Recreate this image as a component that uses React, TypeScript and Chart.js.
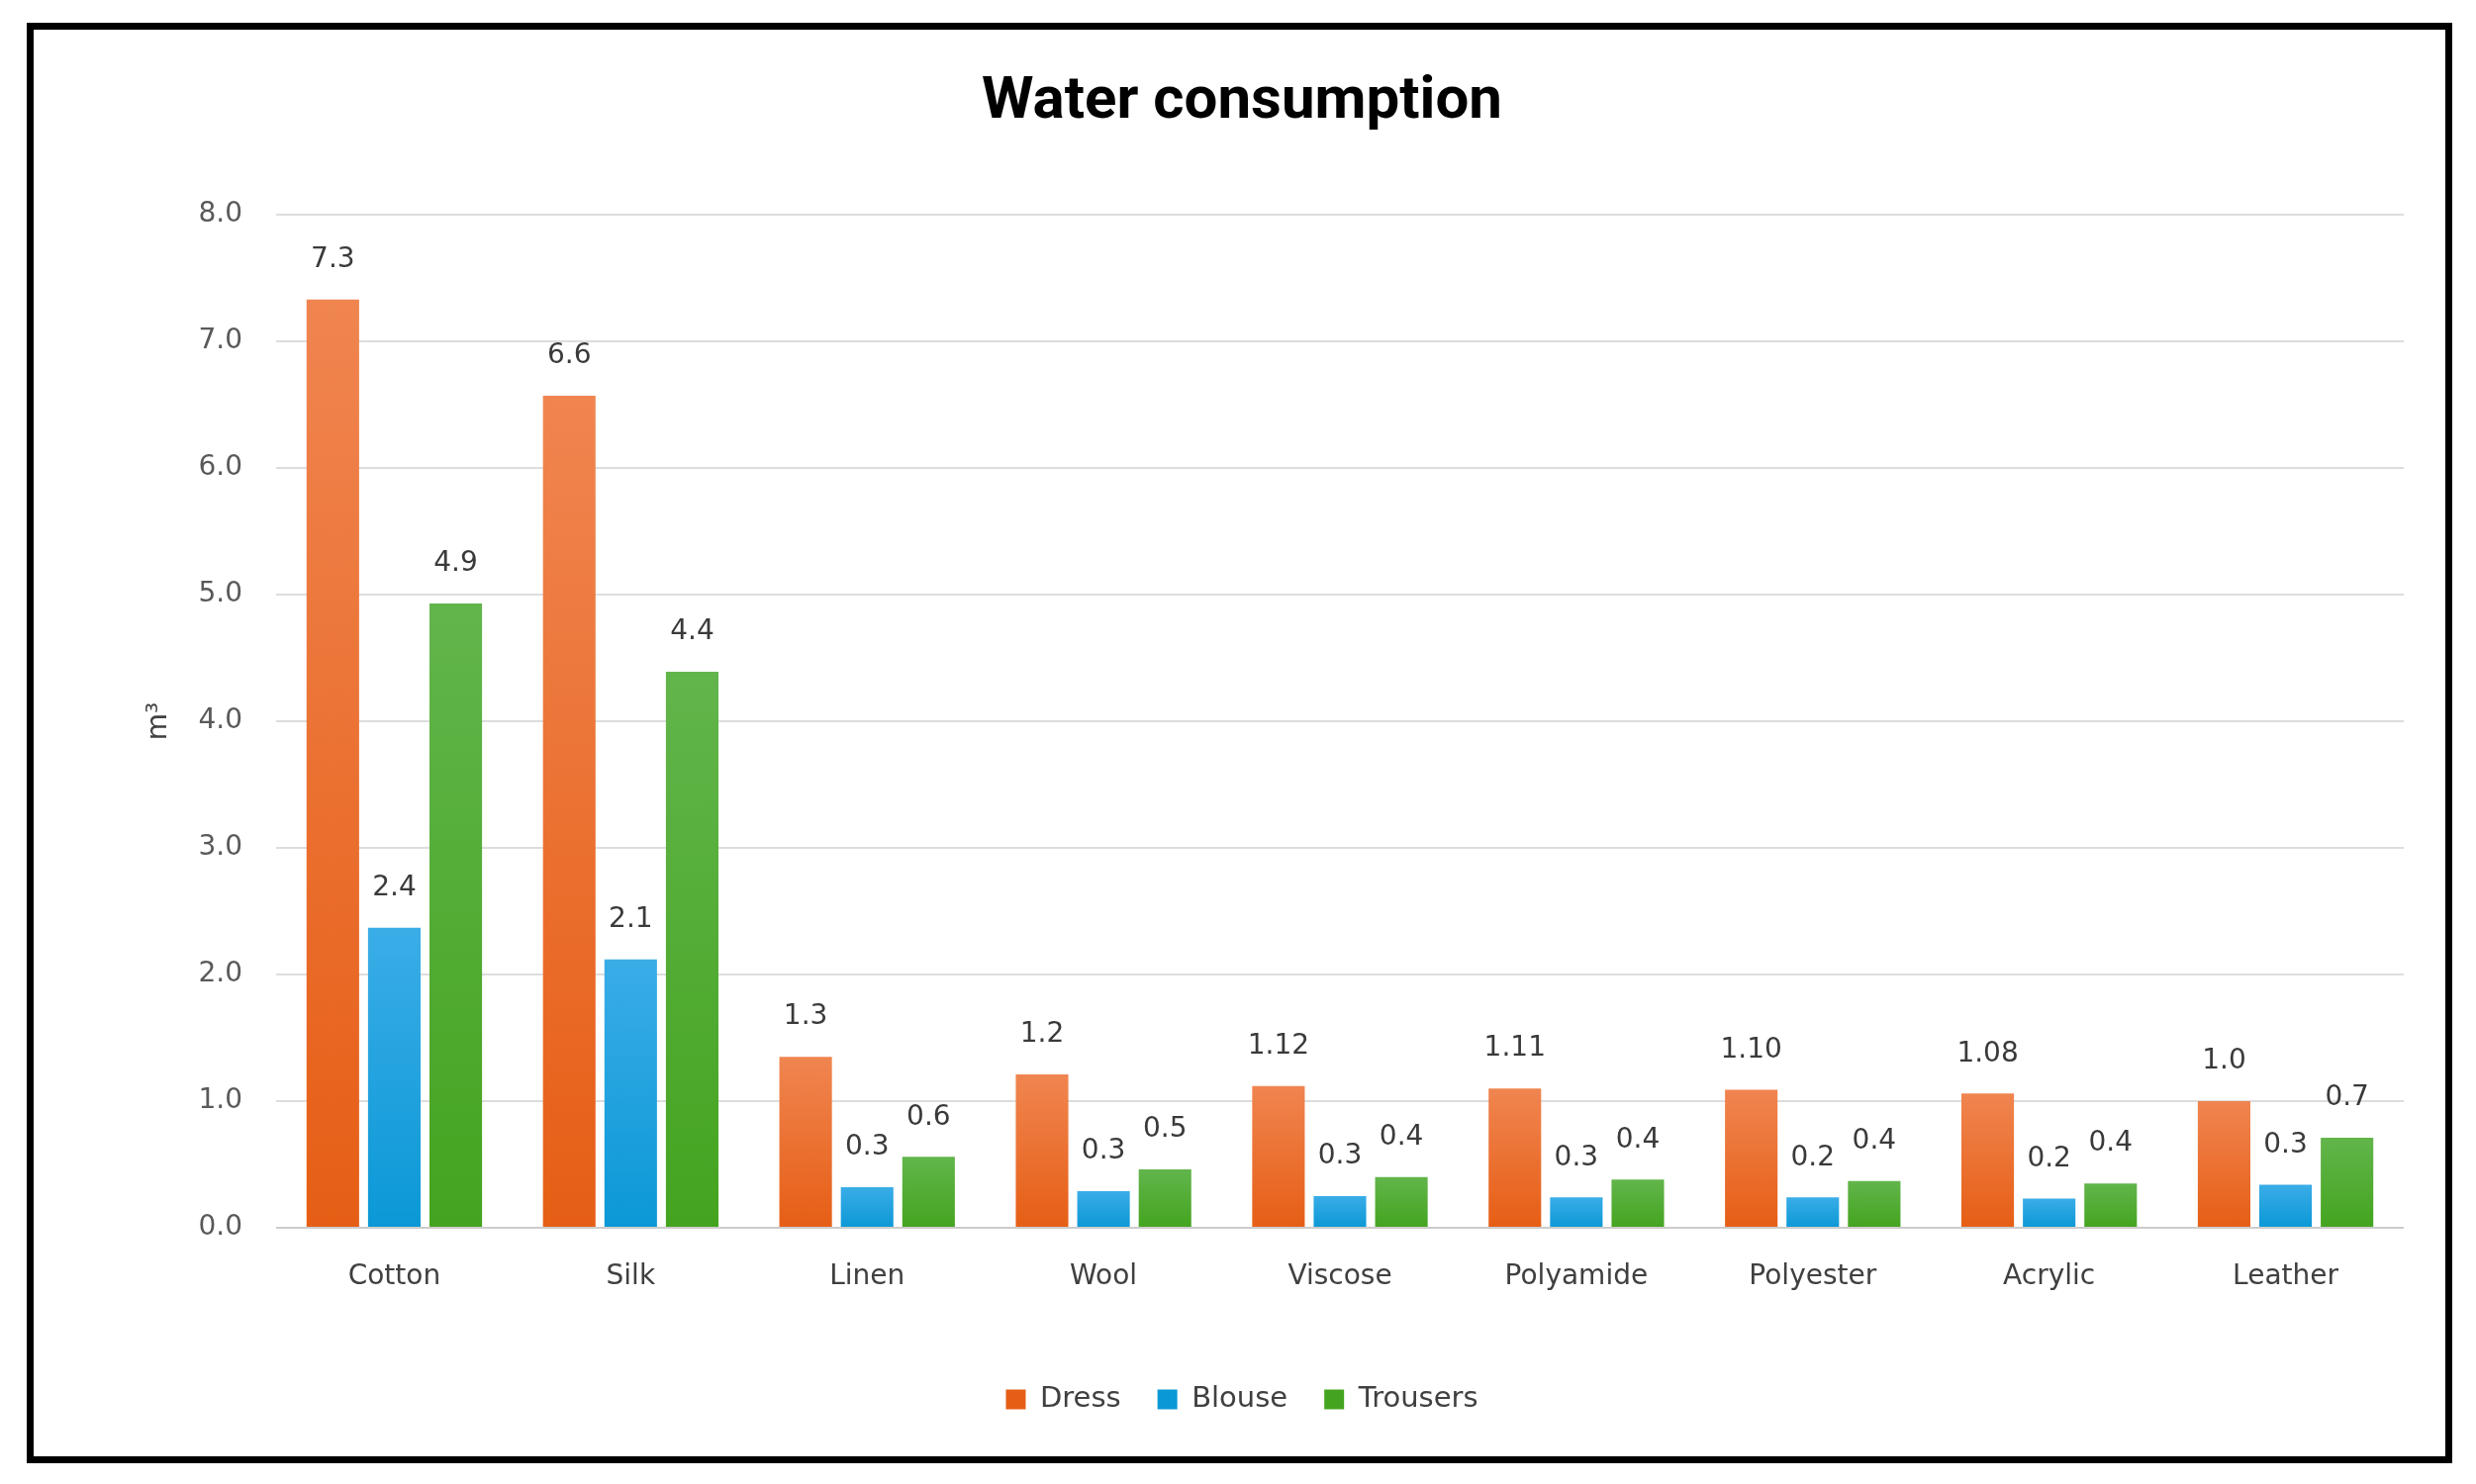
import React, { useEffect, useRef } from 'react';
import { Chart, registerables } from 'chart.js';

Chart.register(...registerables);

const materials = ['Cotton', 'Silk', 'Linen', 'Wool', 'Viscose', 'Polyamide', 'Polyester', 'Acrylic', 'Leather'];
const seriesNames = ['Dress', 'Blouse', 'Trousers'];

// bar heights (m3)
const dressValues = [7.33, 6.57, 1.35, 1.21, 1.12, 1.10, 1.09, 1.06, 1.0];
const blouseValues = [2.37, 2.12, 0.32, 0.29, 0.25, 0.24, 0.24, 0.23, 0.34];
const trousersValues = [4.93, 4.39, 0.56, 0.46, 0.4, 0.38, 0.37, 0.35, 0.71];

// labels printed above the bars
const dressLabels = ['7.3', '6.6', '1.3', '1.2', '1.12', '1.11', '1.10', '1.08', '1.0'];
const blouseLabels = ['2.4', '2.1', '0.3', '0.3', '0.3', '0.3', '0.2', '0.2', '0.3'];
const trousersLabels = ['4.9', '4.4', '0.6', '0.5', '0.4', '0.4', '0.4', '0.4', '0.7'];

const yTickLabels = ['0.0', '1.0', '2.0', '3.0', '4.0', '5.0', '6.0', '7.0', '8.0'];

const FONT = "'DejaVu Sans', 'Open Sans', sans-serif";

// solid colour, light top, dark bottom
const palette = [
  ['#EE6A2A', '#F08550', '#E65E15'],
  ['#1C9FDD', '#3AADE7', '#0B98D6'],
  ['#4EA93A', '#62B54B', '#44A41F'],
];

const barFill = (idx: number) => (ctx: any) => {
  const [solid, top, bottom] = palette[idx];
  if (ctx.type !== 'data') return solid;
  const chart = ctx.chart;
  const area = chart.chartArea;
  const y = chart.scales?.y;
  if (!area || !y || ctx.parsed == null) return solid;
  const yTop = y.getPixelForValue(ctx.parsed.y);
  const yBottom = y.getPixelForValue(0);
  if (!isFinite(yTop) || yBottom - yTop < 1) return solid;
  const g = chart.ctx.createLinearGradient(0, yTop, 0, yBottom);
  g.addColorStop(0, top);
  g.addColorStop(1, bottom);
  return g;
};

const barLabels = {
  id: 'barLabels',
  afterDatasetsDraw(chart: any) {
    const texts = [dressLabels, blouseLabels, trousersLabels];
    const c = chart.ctx;
    c.save();
    c.font = `28px ${FONT}`;
    c.fillStyle = '#3A3A3A';
    c.textAlign = 'center';
    c.textBaseline = 'middle';
    chart.data.datasets.forEach((_: any, i: number) => {
      chart.getDatasetMeta(i).data.forEach((bar: any, j: number) => {
        c.fillText(texts[i][j], bar.x, bar.y - 40);
      });
    });
    c.restore();
  },
};

const WaterChart: React.FC = () => {
  const canvasRef = useRef<HTMLCanvasElement | null>(null);

  useEffect(() => {
    document.body.style.margin = '0';
    if (!canvasRef.current) return;

    const chart = new Chart(canvasRef.current, {
      type: 'bar',
      data: {
        labels: materials,
        datasets: [dressValues, blouseValues, trousersValues].map((values, i) => ({
          label: seriesNames[i],
          data: values,
          backgroundColor: barFill(i),
          borderWidth: 0,
          categoryPercentage: 0.78,
          barPercentage: 0.855,
        })),
      },
      options: {
        responsive: false,
        animation: false,
        devicePixelRatio: 1,
        layout: { padding: { top: 30, left: 81, right: 73, bottom: 61 } },
        plugins: {
          title: {
            display: true,
            text: 'Water consumption',
            color: '#000000',
            font: { family: 'Roboto', weight: 'bold', size: 60 },
            padding: { top: 38, bottom: 77 },
          },
          legend: {
            position: 'bottom',
            labels: {
              boxWidth: 20,
              boxHeight: 20,
              padding: 37,
              color: '#404040',
              font: { family: FONT, size: 29 },
            },
          },
          tooltip: { enabled: false },
        },
        scales: {
          x: {
            afterFit: (s: any) => { s.height = 122; },
            grid: { display: false, drawTicks: false },
            border: { display: false },
            ticks: { padding: 33, color: '#404040', font: { family: FONT, size: 28 } },
          },
          y: {
            min: 0,
            max: 8,
            afterFit: (s: any) => { s.width = 198; },
            grid: {
              drawTicks: false,
              lineWidth: 2,
              color: (ctx: any) => (ctx.index === 0 ? '#CCCCCC' : '#DDDDDD'),
            },
            border: { display: false },
            ticks: {
              stepSize: 1,
              padding: 34,
              color: '#595959',
              font: { family: FONT, size: 28 },
              callback: (_v: any, i: number) => yTickLabels[i],
            },
            title: {
              display: true,
              text: 'm³',
              color: '#404040',
              font: { family: FONT, size: 28 },
              padding: { top: 63, bottom: 0 },
            },
          },
        },
      },
      plugins: [barLabels],
    });

    return () => chart.destroy();
  }, []);

  return (
    <div style={{ position: 'relative', width: 2502, height: 1500, overflow: 'hidden', background: '#ffffff' }}>
      <canvas ref={canvasRef} width={2502} height={1500} style={{ position: 'absolute', left: 0, top: 0 }} />
      <div
        style={{
          position: 'absolute',
          left: 27,
          top: 23,
          width: 2451,
          height: 1456,
          border: '7px solid #000000',
          boxSizing: 'border-box',
          pointerEvents: 'none',
        }}
      />
    </div>
  );
};

export default function App() {
  return <WaterChart />;
}
